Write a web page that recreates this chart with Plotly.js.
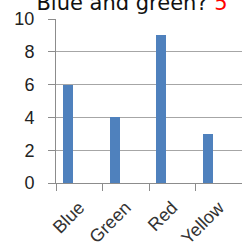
<!DOCTYPE html>
<html>
<head>
<meta charset="utf-8">
<script src="https://cdn.plot.ly/plotly-3.0.1.min.js"></script>
<style>html,body{margin:0;padding:0;background:#fff;overflow:hidden}#chart{width:242px;height:247px}</style>
</head>
<body>
<div id="chart"></div>
<script>
const categories = ["Blue", "Green", "Red", "Yellow"];
const values = [6, 4, 9, 3];
const yTicks = [0, 2, 4, 6, 8, 10];
const titleText = 'Blue and green? <span style="color:#ff0000">5</span>';

const trace = {
  type: 'bar',
  x: categories,
  y: values,
  width: 0.215,
  offset: -0.343,
  marker: {color: '#4f81bd', line: {width: 0}},
  hoverinfo: 'none'
};

const layout = {
  width: 242,
  height: 247,
  margin: {l: 56, r: 0, t: 19, b: 64, pad: 0},
  paper_bgcolor: '#ffffff',
  plot_bgcolor: '#ffffff',
  showlegend: false,
  title: {
    text: titleText,
    font: {family: 'DejaVu Sans', size: 21, color: '#111111'},
    x: 132/242, xanchor: 'center', xref: 'container',
    y: 1 - 10/247, yanchor: 'bottom', yref: 'container'
  },
  xaxis: {
    type: 'category',
    showline: true, linecolor: '#8c8c8c', linewidth: 1,
    ticks: 'outside', ticklen: 7, tickcolor: '#8c8c8c', tickwidth: 1,
    tickson: 'boundaries',
    tickangle: -45,
    ticklabelstandoff: 6,
    tickfont: {family: 'Liberation Sans', size: 18, color: '#333333'},
    showgrid: false, zeroline: false,
    range: [-0.5, 3.5]
  },
  yaxis: {
    range: [0, 10],
    tickvals: yTicks,
    ticktext: yTicks.map(String),
    showline: true, linecolor: '#8c8c8c', linewidth: 1,
    ticks: 'outside', ticklen: 7, tickcolor: '#8c8c8c', tickwidth: 1,
    ticklabelstandoff: 10,
    tickfont: {family: 'Liberation Sans', size: 18, color: '#222222'},
    showgrid: true, gridcolor: '#a6a6a6', gridwidth: 1,
    zeroline: false
  },
  bargap: 0
};

Plotly.newPlot('chart', [trace], layout, {staticPlot: true, displayModeBar: false});
</script>
</body>
</html>
